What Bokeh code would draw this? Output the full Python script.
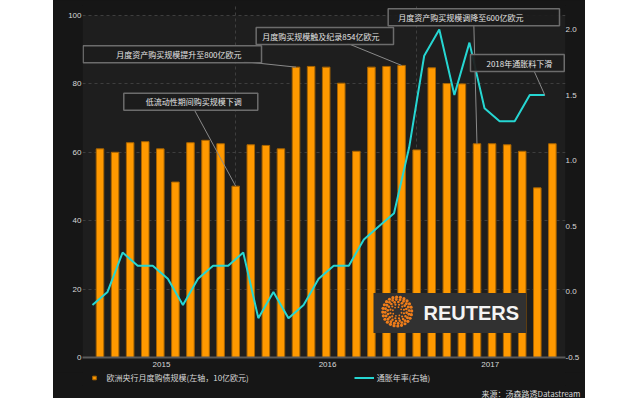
import numpy as np
from bokeh.plotting import figure
from bokeh.models import (Range1d, LinearAxis, FixedTicker, PrintfTickFormatter, Label,
                          Legend, LegendItem, ColumnDataSource, Spacer, BoxAnnotation, Title)
from bokeh.layouts import row, column
from bokeh.embed import file_html
from bokeh.resources import INLINE

# ---------------- data ----------------
months = ["2015-03", "2015-04", "2015-05", "2015-06", "2015-07", "2015-08", "2015-09",
          "2015-10", "2015-11", "2015-12", "2016-01", "2016-02", "2016-03", "2016-04",
          "2016-05", "2016-06", "2016-07", "2016-08", "2016-09", "2016-10", "2016-11",
          "2016-12", "2017-01", "2017-02", "2017-03", "2017-04", "2017-05", "2017-06",
          "2017-07", "2017-08", "2017-09"]
purchases = [61.0, 60.0, 62.8, 63.1, 61.0, 51.3, 62.8, 63.5, 62.5, 50.1, 62.2, 62.0, 61.0,
             84.9, 85.1, 84.9, 80.2, 60.3, 84.9, 85.1, 85.4, 60.7, 84.7, 80.1, 80.0,
             62.5, 62.5, 62.2, 60.3, 49.6, 62.5]
inflation = [-0.1, 0.0, 0.3, 0.2, 0.2, 0.1, -0.1, 0.1, 0.2, 0.2, 0.3, -0.2, 0.0, -0.2,
             -0.1, 0.1, 0.2, 0.2, 0.4, 0.5, 0.6, 1.1, 1.8, 2.0, 1.5, 1.9, 1.4, 1.3, 1.3,
             1.5, 1.5]
year_labels = ["2015", "2016", "2017"]
left_ticks = [0, 20, 40, 60, 80, 100]
right_ticks = [-0.5, 0.0, 0.5, 1.0, 1.5, 2.0]
bar_name = "欧洲央行月度购债规模(左轴，10亿欧元)"
line_name = "通胀年率(右轴)"
source_text = "来源：汤森路透Datastream"
notes = ["低流动性期间购买规模下调", "月度资产购买规模提升至800亿欧元",
         "月度购买规模触及纪录854亿欧元", "月度资产购买规模调降至600亿欧元",
         "2018年通胀料下滑"]
note_months = ["2015-12", "2016-04", "2016-11", "2017-04", "2017-09"]

# ---------------- styling ----------------
CJK = "Noto Sans CJK SC"
ORANGE = "#ff9900"
BAR_EDGE = "#a86400"
CYAN = "#26d6d2"
TXT = "#d8d8d8"
OUTER = "#161616"
INNER = "#1e1e1e"

x = np.arange(len(months))
line_x = x - 0.5
src = ColumnDataSource(dict(x=x, v=purchases))
lsrc = ColumnDataSource(dict(x=line_x, v=inflation))

p = figure(width=532, height=372, x_range=Range1d(-1.16, 30.87), y_range=Range1d(0, 102.92),
           output_backend="svg", toolbar_location=None,
           min_border_left=29, min_border_right=20, min_border_top=5, min_border_bottom=15,
           background_fill_color=OUTER, border_fill_color=OUTER,
           outline_line_color=None)
p.extra_y_ranges = {"right": Range1d(-0.5, 2.1829)}

# plot-area background (0..100)
p.add_layout(BoxAnnotation(bottom=0, top=100, fill_color=INNER, fill_alpha=1.0,
                           line_color=None, level="image"))

# grids
p.ygrid.ticker = FixedTicker(ticks=left_ticks)
p.ygrid.grid_line_color = "#3e3e3e"
p.ygrid.grid_line_dash = "3 3"
p.xgrid.ticker = FixedTicker(ticks=[months.index("2015-12"), months.index("2016-12")])
p.xgrid.grid_line_color = "#3e3e3e"
p.xgrid.grid_line_dash = "3 3"

def style_axis(ax, standoff):
    ax.major_tick_line_color = None
    ax.minor_tick_line_color = None
    ax.major_tick_out = 0
    ax.major_tick_in = 0
    ax.minor_tick_out = 0
    ax.major_label_text_color = TXT
    ax.major_label_text_font = "Liberation Sans"
    ax.major_label_text_font_size = "8px"
    ax.major_label_standoff = standoff

# bottom axis
year_pos = [4.08, 15.09, 25.88]
xa = p.xaxis[0]
xa.ticker = FixedTicker(ticks=year_pos)
xa.major_label_overrides = {pos: lab for pos, lab in zip(year_pos, year_labels)}
xa.axis_line_color = "#5a5a5a"
xa.axis_line_width = 2
style_axis(xa, 4)

# left axis
ya = p.yaxis[0]
ya.ticker = FixedTicker(ticks=left_ticks)
ya.axis_line_color = None
style_axis(ya, 1)

# right axis
ra = LinearAxis(y_range_name="right", ticker=FixedTicker(ticks=right_ticks),
                formatter=PrintfTickFormatter(format="%.1f"))
ra.axis_line_color = None
style_axis(ra, 0)
p.add_layout(ra, "right")

# bars & line
bars = p.vbar(x="x", top="v", width=0.5, source=src, fill_color=ORANGE,
              line_color=BAR_EDGE, line_width=1)
ln = p.line(x="x", y="v", source=lsrc, y_range_name="right", line_color=CYAN, line_width=2)

# annotation leader lines
idx = [months.index(m) for m in note_months]
start_x = [6.22, 9.54, 16.39, 24.79]
start_y = [72.7, 86.5, 91.9, 97.4]
p.segment(x0=start_x, y0=start_y, x1=[idx[i] for i in range(4)],
          y1=[purchases[idx[i]] for i in range(4)], line_color="#8a8a8a", line_width=1)
p.segment(x0=[28.77], y0=[1.6875], x1=[line_x[idx[4]]], y1=[inflation[idx[4]]],
          y_range_name="right", line_color="#8a8a8a", line_width=1)

# annotation boxes (x = left edge of box)
box_x = [1.578, -1.114, 10.358, 19.111, 24.569]
box_y = [74.77, 88.65, 94.0, 99.5, 86.1]
pads = [(22, 16), (33, 20), (6, 14), (10, 36), (16, 12)]
for t, bx, by, (pl, pr) in zip(notes, box_x, box_y, pads):
    p.add_layout(Label(x=bx, y=by, text=t, text_align="left", text_baseline="middle",
                       text_font=CJK, text_font_size="8px", text_color="#e4e4e4",
                       background_fill_color="#1c1c1c", background_fill_alpha=0.92,
                       border_line_color="#6c6c6c", border_line_width=1.5,
                       padding=dict(left=pl, right=pr, top=3, bottom=3)))

# Reuters logo
p.add_layout(Label(x=291, y=44.5, x_units="screen", y_units="screen", text="REUTERS",
                   text_align="left", text_baseline="middle", text_font="Liberation Sans",
                   text_font_size="20px", text_font_style="bold", text_color="#f4f4f4",
                   background_fill_color="#313131",
                   padding=dict(left=50, right=7, top=9, bottom=9)))
cx, cy = 19.71, 13.45
dxs, dys, sz = [], [], []
for r, n, s in [(4.5, 8, 1.8), (7.0, 12, 2.2), (9.5, 16, 2.6), (12.0, 20, 2.9), (14.5, 24, 3.2)]:
    th = np.linspace(0, 2 * np.pi, n, endpoint=False) + r / 9.0
    dxs += list(cx + r * np.cos(th) / 15.08)
    dys += list(cy + r * np.sin(th) / 3.42)
    sz += [s] * n
dots = p.scatter(x=dxs, y=dys, size=sz, marker="circle", fill_color="#f07d1a",
                 line_color=None)
dots.level = "overlay"

# ---------------- legend / source strip ----------------
q = figure(width=532, height=26, x_range=Range1d(0, 532), y_range=Range1d(0, 26),
           output_backend="svg", toolbar_location=None, x_axis_type=None, y_axis_type=None,
           min_border=0, background_fill_color=OUTER, border_fill_color=OUTER,
           outline_line_color=None)
q.xgrid.visible = False
q.ygrid.visible = False
# legend proxies (kept outside the visible range)
sq = q.scatter(x=[-50], y=[-50], marker="square", size=9, fill_color=ORANGE,
               line_color=BAR_EDGE)
lq = q.line(x=[-60, -50], y=[-50, -50], line_color=CYAN, line_width=2)
leg = Legend(items=[LegendItem(label=bar_name, renderers=[sq]),
                    LegendItem(label=line_name, renderers=[lq])],
             location=(1.5, 2.5), orientation="horizontal", padding=0, margin=0,
             spacing=105, glyph_width=20, glyph_height=9, label_standoff=3,
             label_height=10, label_text_font=CJK, label_text_font_size="8px",
             label_text_color=TXT, background_fill_alpha=0, border_line_alpha=0)
q.add_layout(leg)
q.add_layout(Title(text=source_text, align="right", offset=-15, standoff=0,
                   text_font=CJK, text_font_size="8px", text_font_style="normal",
                   text_color=TXT), "below")

layout = row(Spacer(width=53, height=398),
             column(p, q, styles={"background-color": OUTER}))
open("out.html", "w").write(file_html(layout, INLINE))
